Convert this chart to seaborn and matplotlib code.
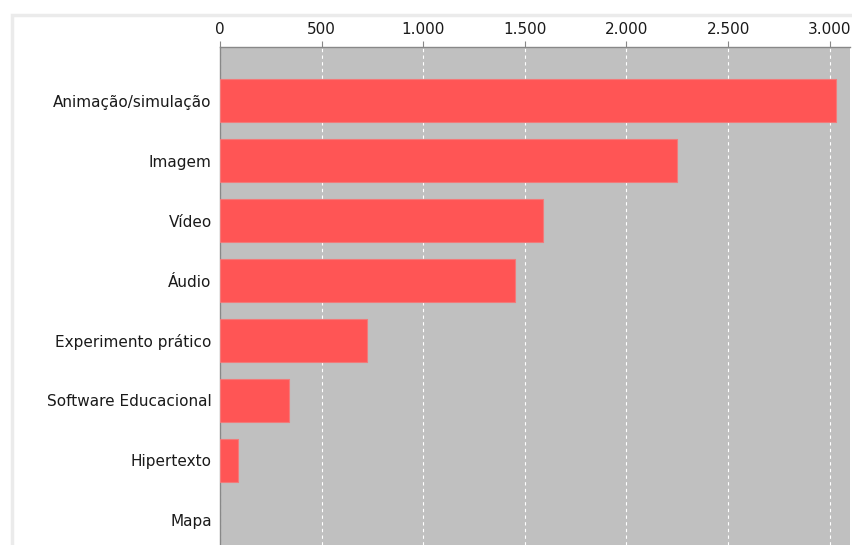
import matplotlib
matplotlib.use("Agg")
import matplotlib.pyplot as plt
import matplotlib.ticker as mticker
import seaborn as sns
import pandas as pd
from matplotlib.patches import Rectangle

categories = ["Animação/simulação", "Imagem", "Vídeo", "Áudio",
              "Experimento prático", "Software Educacional", "Hipertexto", "Mapa"]
values = [3030, 2248, 1589, 1451, 723, 339, 89, 0]
xticks = [0, 500, 1000, 1500, 2000, 2500, 3000]

df = pd.DataFrame({"categoria": categories, "valor": values})

sns.set_theme(style="white")
plt.rcParams['font.family'] = ['DejaVu Sans']

fig = plt.figure(figsize=(8.53, 5.45), dpi=100)
fig.patch.set_facecolor("white")
# outer light frame
fig.patches.append(Rectangle((12/853, -0.1), 1.0, 1.1 - 15/545, transform=fig.transFigure,
                             facecolor="none", edgecolor="#ebebeb", linewidth=2.5, zorder=0))

ax = fig.add_axes([220/853, 0.0, 630/853, 1 - 47/545])
ax.set_facecolor("#c0c0c0")

sns.barplot(data=df, y="categoria", x="valor", orient="h", color="#ff5555",
            saturation=1, width=0.72, edgecolor="#f27a7a", linewidth=0.8, ax=ax, zorder=3)
for p in ax.patches:
    if p.get_width() == 0:
        p.set_visible(False)

ax.set_xlim(0, 3100)
ax.set_ylim(7.417, -0.9)
ax.set_xticks(xticks)
ax.xaxis.set_major_formatter(mticker.FuncFormatter(lambda v, p: f"{int(v):,}".replace(",", ".")))
ax.xaxis.tick_top()
ax.tick_params(axis="x", top=True, bottom=False, length=4, width=0.8, color="#888888",
               labelsize=11, labelcolor="#1a1a1a", pad=3)
ax.tick_params(axis="y", left=False, length=0, labelsize=11, labelcolor="#1a1a1a", pad=6)
ax.grid(axis="x", color="white", linestyle=(0, (3, 3)), linewidth=0.8, zorder=1)
ax.set_axisbelow(True)
ax.set_xlabel("")
ax.set_ylabel("")
for s in ["right", "bottom"]:
    ax.spines[s].set_visible(False)
ax.spines["top"].set_color("#888888")
ax.spines["top"].set_linewidth(1.0)
ax.spines["left"].set_color("#888888")
ax.spines["left"].set_linewidth(1.0)

fig.savefig("out.png", dpi=100)
